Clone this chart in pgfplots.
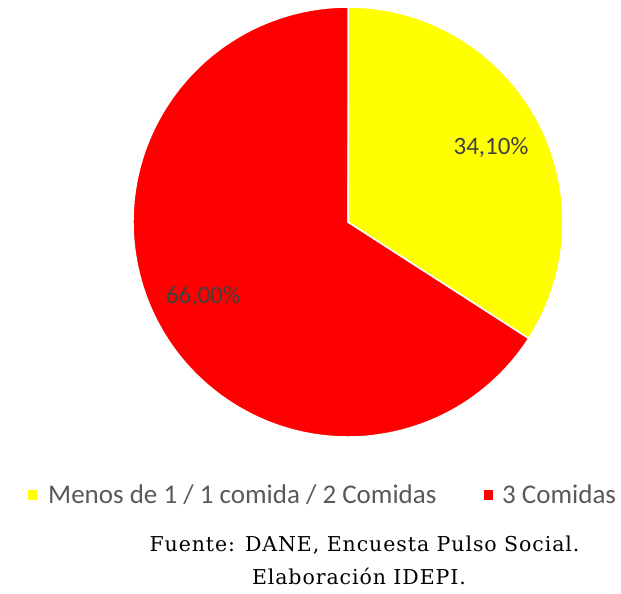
\documentclass[border=0pt]{standalone}
\usepackage{pgfplots}
\usepackage{pgfplotstable}
\pgfplotsset{compat=1.18}
\usepackage{fontspec}
\setmainfont{Carlito}
\newfontfamily\srcfont[LetterSpace=4.5]{DejaVu Serif}
\definecolor{lblgray}{HTML}{404040}
\definecolor{leggray}{HTML}{595959}
\definecolor{pieyellow}{HTML}{FFFF00}
\definecolor{piered}{HTML}{FF0000}
\pgfplotstableread{
label value
menos 34.1
tres 66.0
}\piedata
\pgfplotstablegetelem{0}{value}\of\piedata
\let\va\pgfplotsretval
\pgfplotstablegetelem{1}{value}\of\piedata
\let\vb\pgfplotsretval
\pgfmathsetmacro{\aa}{90-3.6*\va}
\pgfmathsetmacro{\ab}{\aa-3.6*\vb}
\begin{document}
\begin{tikzpicture}[x=1pt,y=1pt]
\path[use as bounding box] (0,0) rectangle (621,594);
\begin{axis}[at={(348pt,372pt)}, anchor=center, scale only axis,
  width=430pt, height=430pt, hide axis,
  xmin=-1, xmax=1, ymin=-1, ymax=1, clip=false]
\addplot[draw=none] coordinates {(-1,-1) (1,1)};
\fill[piered, draw=white, line width=1.5pt] (axis cs:0,0) -- (axis cs:{cos(\aa)},{sin(\aa)})
   arc[start angle=\aa, end angle=\ab, radius=215pt] -- cycle;
\fill[pieyellow, draw=white, line width=1.5pt] (axis cs:0,0) -- (axis cs:0,1)
   arc[start angle=90, end angle=\aa, radius=215pt] -- cycle;
\node[text=lblgray, font=\fontsize{25}{28}\selectfont] at (axis cs:0.665,0.345) {34,10\%};
\node[text=lblgray, font=\fontsize{25}{28}\selectfont] at (axis cs:-0.673,-0.349) {66,00\%};
\end{axis}
\fill[pieyellow] (28,94) rectangle (37,104);
\node[anchor=base west, text=leggray, font=\fontsize{27}{30}\selectfont, inner sep=0pt] at (48,90) {Menos de 1 / 1 comida / 2 Comidas};
\fill[piered] (484,94) rectangle (493,104);
\node[anchor=base west, text=leggray, font=\fontsize{27}{30}\selectfont, inner sep=0pt] at (502,90) {3 Comidas};
\node[anchor=base, inner sep=0pt, font=\srcfont\fontsize{20.5}{24}\selectfont] at (364.5,42) {Fuente: DANE, Encuesta Pulso Social.};
\node[anchor=base, inner sep=0pt, font=\srcfont\fontsize{20.5}{24}\selectfont] at (359,9) {Elaboración IDEPI.};
\end{tikzpicture}
\end{document}
